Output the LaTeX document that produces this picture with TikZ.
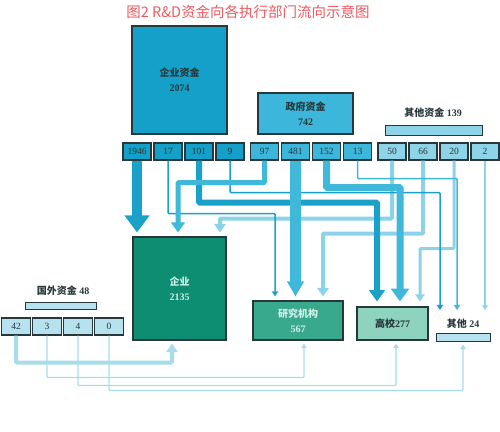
\documentclass[tikz,border=0pt]{standalone}
\usepackage{fontspec}
\setmainfont{Liberation Serif}
\newfontfamily\cjk{Noto Sans CJK SC}
\usetikzlibrary{arrows.meta}

\definecolor{entfund}{HTML}{14A0C8}
\definecolor{govfund}{HTML}{3CB6DA}
\definecolor{othfund}{HTML}{8FD3E8}
\definecolor{forfund}{HTML}{B6E2EF}
\definecolor{entflow}{HTML}{1AA1C9}
\definecolor{govflow}{HTML}{40B8DA}
\definecolor{othflow}{HTML}{8CD2E8}
\definecolor{forflow}{HTML}{A8DCEB}
\definecolor{entperf}{HTML}{0D8D72}
\definecolor{resperf}{HTML}{38AA8B}
\definecolor{uniperf}{HTML}{8DD3BE}
\definecolor{boxline}{HTML}{27373A}
\definecolor{paletext}{HTML}{D2F0E8}
\definecolor{titlered}{HTML}{EE5A62}

\tikzstyle{fundbox} = [
    rectangle,
    minimum width=28pt,
    minimum height=17pt,
    inner sep=0pt,
    draw=boxline,
    line width=1.1pt,
    text=boxline,
    font=\fontsize{9.5}{9.5}\selectfont
]
\tikzstyle{bigbox} = [
    rectangle,
    inner sep=0pt,
    draw=boxline,
    line width=1.1pt,
    text=boxline,
    align=center,
    font=\bfseries\fontsize{10}{15}\selectfont
]
\tikzstyle{sumbar} = [
    rectangle,
    inner sep=0pt,
    draw=boxline,
    line width=1pt
]
\tikzstyle{sumtext} = [
    text=boxline,
    inner sep=1pt,
    font=\bfseries\fontsize{10}{10}\selectfont
]
\tikzstyle{flow} = [
    rounded corners=1pt,
    shorten >=4pt,
    -{Triangle[length=3pt 1.4, width=3pt 2.1]}
]

\begin{document}
\begin{tikzpicture}[x=1pt, y=-1pt, node distance=31pt]

\useasboundingbox (0,0) rectangle (500,431);

\node (title) [text=titlered, font=\cjk\fontsize{14.5}{14.5}\selectfont] at (248,12)
{图2 R\&D资金向各执行部门流向示意图};

\node (entsrc) [bigbox, fill=entfund, minimum width=95pt, minimum height=108pt] at (179.5,80)
{{\cjk 企业资金}\\2074};

\node (govsrc) [bigbox, fill=govfund, minimum width=95pt, minimum height=41pt] at (305.5,113.5)
{{\cjk 政府资金}\\742};

\node (othname) [sumtext] at (433,113) {{\cjk 其他资金} 139};
\node (othsrc) [sumbar, fill=othfund, minimum width=97pt, minimum height=10pt] at (433.5,130) {};

\node (e1946) [fundbox, fill=entfund] at (137,151.5) {1946};
\node (e17) [fundbox, fill=entfund, right of=e1946] {17};
\node (e101) [fundbox, fill=entfund, right of=e17] {101};
\node (e9) [fundbox, fill=entfund, right of=e101] {9};

\node (g97) [fundbox, fill=govfund] at (264.5,151.5) {97};
\node (g481) [fundbox, fill=govfund, right of=g97] {481};
\node (g152) [fundbox, fill=govfund, right of=g481] {152};
\node (g13) [fundbox, fill=govfund, right of=g152] {13};

\node (o50) [fundbox, fill=othfund] at (392,151.5) {50};
\node (o66) [fundbox, fill=othfund, right of=o50] {66};
\node (o20) [fundbox, fill=othfund, right of=o66] {20};
\node (o2) [fundbox, fill=othfund, right of=o20] {2};

\node (forname) [sumtext] at (63,291) {{\cjk 国外资金} 48};
\node (forsrc) [sumbar, fill=forfund, minimum width=71pt, minimum height=7pt] at (60.5,305.5) {};

\node (f42) [fundbox, fill=forfund, minimum width=29pt] at (16,326.5) {42};
\node (f3) [fundbox, fill=forfund, minimum width=29pt, right of=f42] {3};
\node (f4) [fundbox, fill=forfund, minimum width=29pt, right of=f3] {4};
\node (f0) [fundbox, fill=forfund, minimum width=29pt, right of=f4] {0};

\node (ent) [bigbox, fill=entperf, text=paletext, minimum width=93pt, minimum height=103pt] at (179.5,288.5)
{{\cjk 企业}\\2135};

\node (res) [bigbox, fill=resperf, text=paletext, minimum width=90pt, minimum height=39pt] at (298,320.5)
{{\cjk 研究机构}\\567};

\node (uni) [bigbox, fill=uniperf, minimum width=71pt, minimum height=33pt] at (392.5,323.5)
{{\cjk 高校}277};

\node (othlab) [sumtext] at (463,324) {{\cjk 其他} 24};
\node (oth) [sumbar, fill=forfund, minimum width=54pt, minimum height=8pt] at (463,337) {};

\draw [flow, othflow, line width=4pt] (o50.south) -- ++(0,58) -| ([xshift=40.5pt]ent.north);
\draw [flow, othflow, line width=4pt] (o66.south) -- ++(0,73) -| ([xshift=25pt]res.north);
\draw [flow, othflow, line width=3pt, shorten >=5pt] (o20.south) -- ++(0,88) -| ([xshift=27.5pt]uni.north);
\draw [flow, othflow, line width=1.2pt, shorten >=8pt] (o2.south) -- (o2.south |- othlab.north);

\draw [flow, forflow, line width=4pt, shorten >=3pt] (f42.south) -- ++(0,27) -| ([xshift=-7.5pt]ent.south);
\draw [flow, forflow, line width=1.2pt, shorten >=3pt] (f3.south) -- ++(0,42) -| ([xshift=6pt]res.south);
\draw [flow, forflow, line width=1.2pt, shorten >=3pt] (f4.south) -- ++(0,50) -| ([xshift=3.5pt]uni.south);
\draw [flow, forflow, line width=1.2pt, shorten >=3pt] (f0.south) -- ++(0,55) -| (oth.south);

\draw [flow, entflow, line width=1.5pt] (e17.south) -- ++(0,53) -| ([xshift=-23pt]res.north);
\draw [flow, entflow, line width=6pt, shorten >=5pt] (e101.south) -- ++(0,42) -| ([xshift=-15.5pt]uni.north);
\draw [flow, entflow, line width=1.5pt, shorten >=8pt] (e9.south) -- ++(0,32) -| ([xshift=-23pt]othlab.north);
\draw [flow, entflow, line width=10pt] (e1946.south) -- (e1946.south |- ent.north);

\draw [flow, govflow, line width=5pt] (g97.south) -- ++(0,22) -| ([xshift=-1.5pt]ent.north);
\draw [flow, govflow, line width=7pt, shorten >=5pt] (g152.south) -- ++(0,27) -| ([xshift=7.5pt]uni.north);
\draw [flow, govflow, line width=1.5pt, shorten >=8pt] (g13.south) -- ++(0,18) -| ([xshift=-6pt]othlab.north);
\draw [flow, govflow, line width=11pt, -{Triangle[length=3pt 1.1, width=3pt 1.2]}] (g481.south) -- (g481.south |- res.north);

\end{tikzpicture}
\end{document}
